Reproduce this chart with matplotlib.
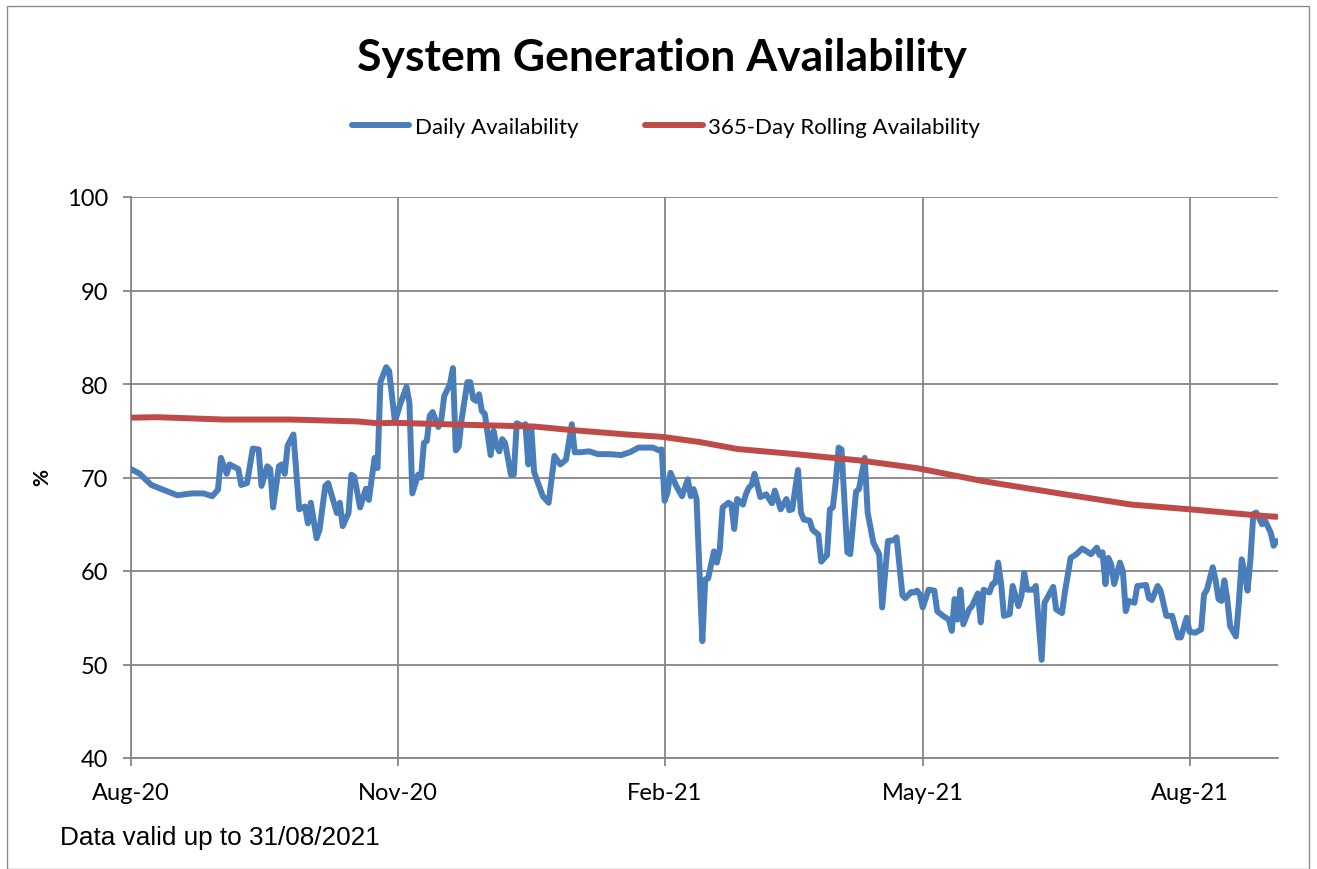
import matplotlib
matplotlib.use("Agg")
import matplotlib.pyplot as plt
import pandas as pd
from matplotlib.patches import Rectangle

start_date = "2020-08-01"

daily_day = [0, 3, 7, 11, 16, 21, 25, 28, 30, 31, 33, 34, 37, 38, 40, 42, 44, 45, 47, 48,
             49, 51, 52, 53, 54, 56, 58, 60, 61, 62, 64, 65, 67, 68, 69, 71, 72, 73, 75, 76,
             77, 79, 80, 81, 82, 84, 85, 86, 88, 89, 91, 93, 95, 96, 97, 99, 100, 101, 102, 103,
             104, 106, 107, 108, 110, 111, 112, 113, 114, 116, 117, 118, 119, 120, 121, 122, 124, 125, 126, 127,
             128, 129, 131, 132, 133, 135, 136, 137, 138, 139, 140, 142, 144, 146, 148, 150, 152, 153, 155, 158,
             161, 165, 169, 172, 175, 180, 182, 183, 184, 185, 186, 188, 190, 192, 193, 194, 195, 197, 198, 199,
             201, 202, 203, 204, 206, 207, 208, 209, 211, 212, 213, 214, 215, 217, 219, 221, 222, 224, 226, 227,
             228, 230, 231, 232, 234, 235, 237, 238, 240, 241, 242, 243, 244, 245, 247, 248, 250, 251, 253, 254,
             256, 258, 259, 261, 263, 264, 266, 267, 269, 270, 271, 272, 273, 275, 277, 278, 280, 282, 283, 284,
             285, 286, 287, 289, 290, 292, 293, 294, 296, 297, 298, 299, 300, 301, 303, 304, 306, 307, 308, 309,
             311, 312, 314, 315, 318, 319, 321, 322, 324, 326, 328, 330, 331, 333, 334, 335, 336, 337, 338, 339,
             341, 342, 343, 344, 346, 347, 350, 351, 352, 354, 355, 357, 359, 361, 362, 364, 365, 367, 369, 370,
             371, 373, 374, 375, 376, 377, 378, 379, 381, 382, 383, 384, 385, 386, 387, 388, 390, 391, 393, 394,
             395]
daily_value = [70.9, 70.4, 69.2, 68.7, 68.1, 68.3, 68.3, 68.0, 68.7, 72.1, 70.4, 71.4, 70.9, 69.2, 69.4, 73.1, 73.0, 69.1, 71.2, 70.9,
               66.8, 71.2, 71.4, 70.4, 73.4, 74.6, 66.6, 66.9, 65.1, 67.3, 63.5, 64.4, 69.1, 69.4, 68.3, 66.2, 67.3, 64.8, 66.2, 70.3,
               70.1, 66.8, 67.8, 68.8, 67.6, 72.1, 71.0, 80.2, 81.8, 81.4, 76.0, 78.0, 79.7, 78.0, 68.3, 70.3, 70.0, 73.7, 73.9, 76.6,
               77.0, 75.4, 76.2, 78.7, 80.0, 81.7, 72.9, 73.3, 76.2, 80.2, 80.2, 78.4, 78.2, 78.9, 77.1, 76.8, 72.4, 75.0, 73.4, 72.8,
               74.1, 73.7, 70.3, 70.3, 75.8, 75.5, 75.7, 71.4, 75.4, 70.6, 69.7, 68.0, 67.3, 72.3, 71.4, 71.9, 75.7, 72.7, 72.7, 72.8,
               72.5, 72.5, 72.4, 72.7, 73.2, 73.2, 72.9, 73.0, 67.5, 68.4, 70.5, 69.1, 68.0, 69.8, 68.0, 68.75, 67.7, 52.5, 59.1, 59.2,
               62.1, 60.9, 62.3, 66.8, 67.3, 67.1, 64.5, 67.7, 67.1, 68.2, 68.9, 69.2, 70.4, 67.9, 68.2, 67.25, 68.6, 66.6, 67.7, 66.5,
               66.6, 70.8, 66.25, 65.5, 65.4, 64.4, 63.9, 61.0, 61.7, 66.6, 66.8, 69.5, 73.2, 73.0, 62.0, 61.8, 68.5, 68.75, 72.1, 66.25,
               63.0, 61.8, 56.1, 63.2, 63.3, 63.6, 57.4, 57.1, 57.75, 57.7, 57.9, 57.5, 56.1, 58.0, 57.9, 55.7, 55.2, 54.8, 53.6, 57.0,
               54.8, 58.0, 54.3, 55.9, 56.25, 57.6, 54.5, 58.0, 57.7, 58.6, 58.75, 60.9, 58.75, 55.2, 55.4, 58.4, 56.25, 57.3, 59.8, 58.0,
               58.0, 58.4, 50.5, 56.6, 58.3, 55.9, 55.5, 57.7, 61.4, 61.8, 62.4, 62.0, 61.8, 62.5, 61.7, 62.0, 58.6, 61.4, 60.7, 58.6,
               60.9, 60.0, 55.7, 56.8, 56.6, 58.4, 58.5, 57.1, 56.9, 58.4, 57.9, 55.2, 55.2, 52.9, 52.9, 55.0, 53.5, 53.4, 53.75, 57.5,
               58.0, 60.4, 59.0, 57.0, 56.8, 59.0, 57.0, 54.1, 53.0, 56.6, 61.25, 59.8, 57.9, 61.25, 66.1, 66.25, 65.0, 65.4, 64.1, 62.7,
               63.2]

rolling_day = [0, 9, 32, 55, 78, 85, 91, 114, 139, 151, 171, 183, 196, 209, 229, 252, 271, 294, 322, 345, 365, 390, 395]
rolling_value = [76.4, 76.45, 76.2, 76.2, 76.0, 75.8, 75.85, 75.65, 75.45, 75.1, 74.6, 74.35, 73.8, 73.05, 72.5, 71.8,
                 71.0, 69.6, 68.2, 67.1, 66.6, 65.9, 65.8]

tick_dates = ["2020-08-01", "2020-11-01", "2021-02-01", "2021-05-01", "2021-08-01"]
tick_labels = ["Aug-20", "Nov-20", "Feb-21", "May-21", "Aug-21"]
y_ticks = [40, 50, 60, 70, 80, 90, 100]

title = "System Generation Availability"
series_names = ["Daily Availability", "365-Day Rolling Availability"]
note = "Data valid up to 31/08/2021"

BLUE = "#4A7EBB"
RED = "#BE4B48"
GRID = "#868686"
UIFONT = "Lato"

t0 = pd.Timestamp(start_date)
d_dates = t0 + pd.to_timedelta(daily_day, unit="D")
r_dates = t0 + pd.to_timedelta(rolling_day, unit="D")

fig = plt.figure(figsize=(13.17, 8.70), dpi=100)
fig.patches.append(Rectangle((7 / 1317, 0.0), 1302 / 1317, 1 - 7 / 870, transform=fig.transFigure,
                             fill=False, edgecolor="#8c8c8c", linewidth=1.0))

ax = fig.add_axes([131 / 1317, 1 - 759 / 870, (1278 - 131) / 1317, (759 - 198) / 870])
l1, = ax.plot(d_dates, daily_value, color=BLUE, lw=4.3, solid_joinstyle="round",
              solid_capstyle="round", zorder=3)
l2, = ax.plot(r_dates, rolling_value, color=RED, lw=4.3, solid_capstyle="round", zorder=4)

ax.set_ylim(40, 100)
ax.set_yticks(y_ticks)
ax.set_xlim(t0, t0 + pd.Timedelta(days=395.5))
ax.set_xticks(pd.to_datetime(tick_dates))
ax.set_xticklabels(tick_labels)

ax.grid(True, color=GRID, lw=1.3)
ax.set_axisbelow(True)
for s in ["top", "right"]:
    ax.spines[s].set_visible(False)
for s in ["left", "bottom"]:
    ax.spines[s].set_color(GRID)
    ax.spines[s].set_linewidth(1.3)
ax.tick_params(axis="both", direction="out", length=5.5, width=1.3, color=GRID,
               labelsize=17, labelcolor="black")
for lab in ax.get_xticklabels() + ax.get_yticklabels():
    lab.set_fontfamily(UIFONT)
ax.tick_params(axis="x", pad=12)
ax.tick_params(axis="y", pad=11)

fig.text(42 / 1317, 1 - 478 / 870, "%", rotation=90, ha="center", va="center",
         fontsize=15, fontweight="bold", family=UIFONT)

fig.text(662 / 1317, 1 - 58 / 870, title, ha="center", va="center",
         fontsize=32, fontweight="bold", family=UIFONT)

leg = fig.legend([l1, l2], series_names, loc="center", bbox_to_anchor=(666 / 1317, 1 - 128 / 870),
                 ncol=2, frameon=False, handlelength=2.6, handletextpad=0.25, columnspacing=3.0,
                 prop={"family": UIFONT, "size": 16})

fig.text(60 / 1317, 1 - 838 / 870, note, ha="left", va="center",
         fontsize=18.8, family="Liberation Sans")

fig.savefig("out.png", dpi=100)
